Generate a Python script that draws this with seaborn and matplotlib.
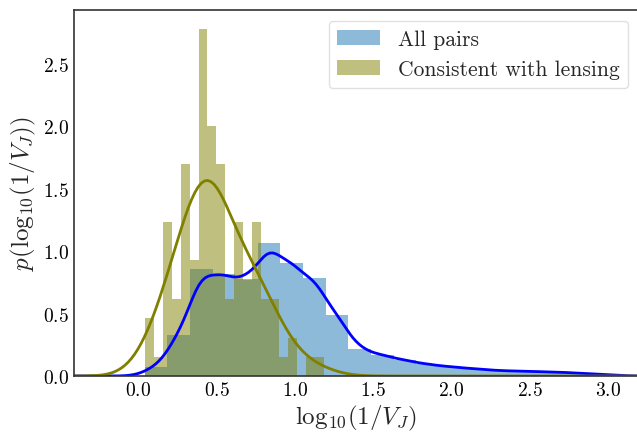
import numpy as np
import matplotlib
matplotlib.use("Agg")
import matplotlib.pyplot as plt
import matplotlib.patches as mpatches
import seaborn as sns

# Binned densities of log10(1/V_J)
all_start, all_width = 0.041, 0.1447
all_density = [0.07, 0.325, 0.853, 0.82, 0.78, 1.066, 0.906, 0.786, 0.49, 0.218,
               0.17, 0.128, 0.095, 0.075, 0.06, 0.045, 0.04, 0.035, 0.03, 0.02, 0.01]

lens_start, lens_width = 0.041, 0.0574
lens_counts = [3, 1, 8, 4, 11, 6, 18, 13, 11, 4, 8, 5, 8, 4, 4, 1, 2, 0, 1, 1]

series_labels = ["All pairs", "Consistent with lensing"]
x_label = r"$\mathrm{log}_{10}(1/V_J)$"
y_label = r"$p(\mathrm{log}_{10}(1/V_J))$"


def bin_layout(start, width, n):
    edges = start + width * np.arange(n + 1)
    centers = 0.5 * (edges[:-1] + edges[1:])
    return edges.tolist(), centers


sns.set_style("white")
plt.rcParams.update({
    "font.family": "serif",
    "font.serif": ["cmr10"],
    "mathtext.fontset": "cm",
    "axes.formatter.use_mathtext": True,
    "xtick.direction": "in",
    "ytick.direction": "in",
})

fig = plt.figure(figsize=(6.37, 4.35), dpi=100)
ax = fig.add_axes([0.1162, 0.1333, 0.8838, 0.8421])

all_edges, all_centers = bin_layout(all_start, all_width, len(all_density))
lens_edges, lens_centers = bin_layout(lens_start, lens_width, len(lens_counts))

sns.histplot(x=all_centers, weights=all_density, bins=all_edges, stat="count",
             color="C0", alpha=0.5, linewidth=0, ax=ax)
sns.kdeplot(x=all_centers, weights=all_density, bw_method=0.165, cut=50,
            gridsize=900, color="blue", linewidth=2, ax=ax)

sns.histplot(x=lens_centers, weights=lens_counts, bins=lens_edges, stat="density",
             color="olive", alpha=0.5, linewidth=0, ax=ax)
sns.kdeplot(x=lens_centers, weights=lens_counts, bw_method=0.56, cut=45,
            gridsize=900, color="olive", linewidth=2, ax=ax)

ax.set_xlim(-0.41, 3.187)
ax.set_ylim(0, 2.933)
ax.set_xticks(np.arange(0, 3.01, 0.5))
ax.set_yticks(np.arange(0, 2.51, 0.5))
ax.tick_params(axis="both", labelsize=14, length=4, width=1, colors="black",
               direction="in")
ax.set_xlabel(x_label, fontsize=18, labelpad=3)
ax.set_ylabel(y_label, fontsize=18)
ax.spines["right"].set_visible(False)
for side in ("left", "bottom", "top"):
    ax.spines[side].set_color("#333333")
    ax.spines[side].set_linewidth(1.2)

handles = [mpatches.Patch(facecolor="C0", alpha=0.5, linewidth=0),
           mpatches.Patch(facecolor="olive", alpha=0.5, linewidth=0)]
ax.legend(handles, series_labels, loc="upper right", fontsize=15.5,
          frameon=True, fancybox=True, edgecolor="0.85", borderaxespad=0,
          bbox_to_anchor=(0.984, 0.969))

fig.savefig("out.png", dpi=100)
